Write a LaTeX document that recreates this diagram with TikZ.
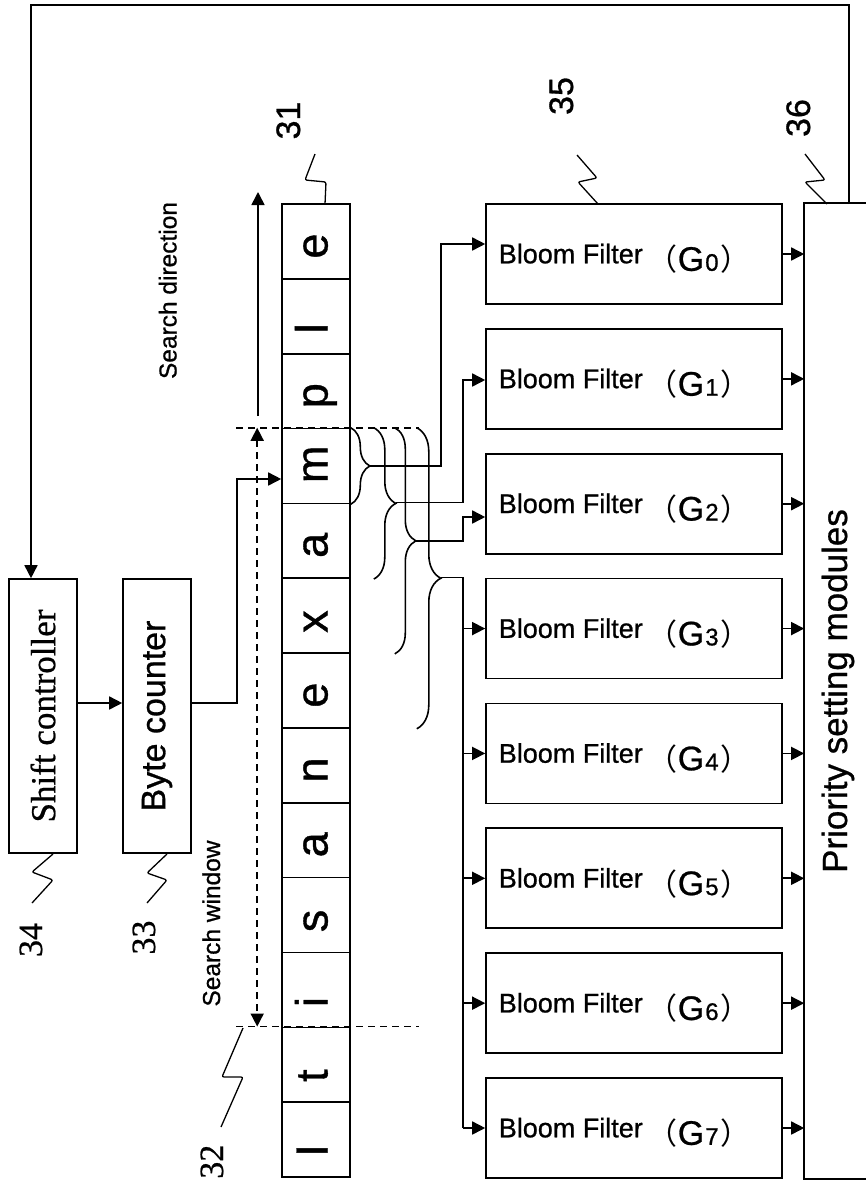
\documentclass[tikz,border=0pt]{standalone}
\usepackage{fontspec}
\setmainfont{Liberation Sans}[FakeBold=0.8]
\newfontfamily\serifF{Liberation Serif}[FakeBold=0.6]
\newfontfamily\cjk{Noto Sans CJK SC}
\usetikzlibrary{arrows.meta,decorations.pathreplacing,calc}
\newcommand\fsz[1]{\fontsize{#1}{#1}\selectfont}
\newcommand\bfl[1]{\fsz{27}Bloom Filter\hspace{5pt}\raisebox{-7.5pt}{{\cjk\fsz{30}（}\hspace{0pt}{\fsz{34}G}\hspace{1pt}{\fsz{24}#1}\hspace{2pt}{\cjk\fsz{30}）}}}
\begin{document}
\begin{tikzpicture}[x=1pt,y=-1pt,line width=1.6pt,
  >={Triangle[length=13pt,width=13pt]},
  box/.style={draw,rectangle,inner sep=0pt},
  cell/.style={draw,rectangle,inner sep=0pt,minimum width=68pt,minimum height=74.85pt},
  letter/.style={rotate=90,anchor=base west,inner sep=0pt,font=\fsz{45}},
  bloom/.style={draw,rectangle,inner sep=0pt,minimum width=296pt,minimum height=100pt},
  vlabel/.style={rotate=90,anchor=base,inner sep=0pt},
  dashline/.style={dash pattern=on 7pt off 5pt},
  leader/.style={line width=1.3pt,rounded corners=2pt},
  bracestyle/.style={decorate,decoration={brace,amplitude=#1}}]
\useasboundingbox (0,0) rectangle (866,1191);

% character cells
\foreach \cellch [count=\k from 0] in {e,l,p,m,a,x,e,n,a,s,i,t,I}{
  \node[cell] (c\k) at (316,{241.425+74.85*\k}) {};
  \node[letter] (ch\k) at (327.5,{259.35+74.85*\k}) {\cellch};
}

% left blocks
\node[box,rotate=90,minimum width=274pt,minimum height=68pt,font=\serifF\fsz{35}] (shift) at (43,716) {Shift controller};
\node[box,rotate=90,minimum width=274pt,minimum height=68pt,font=\fsz{34}] (byte) at (157,716) {Byte counter};

% bloom filters
\foreach \k in {0,...,7}{
  \node[bloom] (g\k) at (634,{254+124.857*\k}) {};
  \node[anchor=base west,inner sep=0pt] (gt\k) at (498,{263.3+124.857*\k}) {\bfl{\k}};
}

% priority module
\node[inner sep=0pt,minimum width=61pt,minimum height=974pt] (prio) at (835.5,691) {};
\draw (prio.north east) -- (prio.north west) -- (prio.south west) -- (prio.south east);
\node[vlabel,font=\fsz{35}] (priotext) at (847,691) {Priority setting modules};

\foreach \k in {0,...,7} \draw[->] (g\k.east) -- (prio.west |- g\k.east);

% feedback
\coordinate (fb0) at (849,204);
\coordinate (fb1) at (849,5);
\coordinate (fb2) at (31,5);
\draw[->] (fb0) -- (fb1) -- (fb2) -- (fb2 |- shift.east);

% shift -> byte -> m
\coordinate (r703) at (0,703);
\draw[->] (shift.south |- r703) -- (byte.north |- r703);
\coordinate (bc) at (237,479);
\draw[->] (byte.south |- r703) -| (bc) -- (c3.west |- bc);

% search window / direction
\draw[dashline] ($(c3.north west)+(-45,0)$) -- ($(c3.north east)+(68,0)$);
\draw[dashline] ($(c11.north west)+(-45,0)$) -- ($(c11.north east)+(68,0)$);
\coordinate (sw1) at ($(c3.north west)+(-24,0)$);
\coordinate (sw2) at ($(c11.north west)+(-24,0)$);
\draw[dashline,<->] (sw1) -- (sw2);
\coordinate (sd1) at (258,416);
\coordinate (sd2) at (258,192);
\draw[->] (sd1) -- (sd2);
\node[vlabel,font=\fsz{24.5}] (sdir) at (176.5,290.5) {Search direction};
\node[vlabel,font=\fsz{24.5}] (swin) at (220,923.5) {Search window};

% braces
\draw[bracestyle=19pt] (c3.north east) -- (c3.south east);
\draw[bracestyle=22pt] ($(c3.north east)+(23,0)$) -- ($(c4.south east)+(23,0)$);
\draw[bracestyle=21pt] ($(c3.north east)+(44,0)$) -- ($(c5.south east)+(44,0)$);
\draw[bracestyle=24pt] ($(c3.north east)+(66,0)$) -- ($(c6.south east)+(66,0)$);
\coordinate (t1) at ($(c3.east)+(19,0)$);
\coordinate (t2) at ($(c4.north east)+(45,0)$);
\coordinate (t3) at ($(c4.east)+(65,0)$);
\coordinate (t4) at ($(c5.north east)+(90,0)$);

\coordinate (j0) at (441,244);
\draw[->] (t1) -| (j0) -- (g0.west |- j0);
\coordinate (j1) at (463,380);
\draw[->] (t2) -| (j1) -- (g1.west |- j1);
\coordinate (j2) at (463,517);
\draw[->] (t3) -| (j2) -- (g2.west |- j2);
\coordinate (busx) at (463,0);
\draw (t4) -| (busx |- g7.west);
\foreach \k in {3,...,7} \draw[->] (busx |- g\k.west) -- (g\k.west);

% reference numbers
\node[vlabel,font=\fsz{34}] (n31) at (300,120.5) {31};
\node[vlabel,font=\fsz{34}] (n35) at (573,96) {35};
\node[vlabel,font=\fsz{34}] (n36) at (810,118) {36};
\node[vlabel,font=\serifF\fsz{34}] (n34) at (42,940) {34};
\node[vlabel,font=\serifF\fsz{34}] (n33) at (155,937.5) {33};
\node[vlabel,font=\serifF\fsz{34}] (n32) at (223,1161.7) {32};

% leaders
\draw[leader] (315,154) -- (305,180) -- (326,182) -- (325,204);
\draw[leader] (577,155) -- (597,178) -- (578,182) -- (598,204);
\draw[leader] (805,154) -- (825,180) -- (805,182) -- (827,204);
\draw[leader] (53,854) -- (32,872) -- (53,880) -- (32,903);
\draw[leader] (167,854) -- (147,873) -- (167,880) -- (147,903);
\draw[leader] (243,1028) -- (222,1077) -- (243,1077) -- (221,1127);
\end{tikzpicture}
\end{document}
